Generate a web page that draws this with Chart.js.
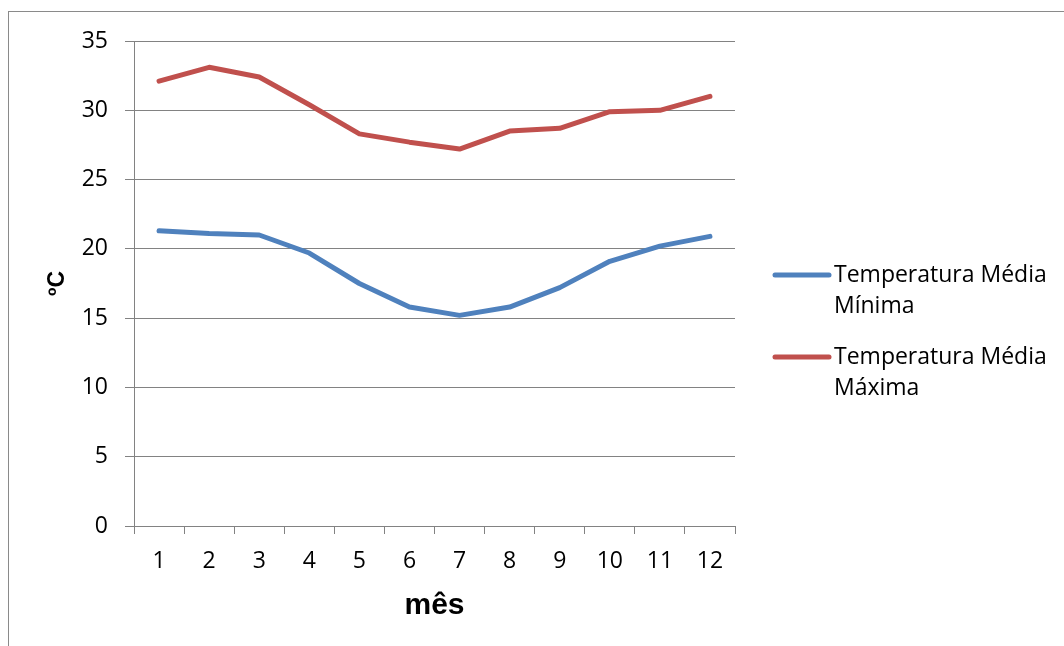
<!DOCTYPE html>
<html>
<head>
<meta charset="utf-8">
<script src="https://cdn.jsdelivr.net/npm/chart.js@4/dist/chart.umd.min.js"></script>
<style>
  html, body { margin: 0; padding: 0; background: #ffffff; overflow: hidden; }
  #wrap { width: 1064px; height: 646px; position: relative; }
  canvas { display: block; }
</style>
</head>
<body>
<div id="wrap"><canvas id="chart" width="1064" height="646"></canvas></div>
<script>
// Monthly mean temperatures (ºC)
const months = ['1', '2', '3', '4', '5', '6', '7', '8', '9', '10', '11', '12'];
const tempMin = [21.3, 21.1, 21.0, 19.7, 17.5, 15.8, 15.2, 15.8, 17.2, 19.1, 20.2, 20.9];
const tempMax = [32.1, 33.1, 32.4, 30.4, 28.3, 27.7, 27.2, 28.5, 28.7, 29.9, 30.0, 31.0];
const seriesNames = [['Temperatura Média', 'Mínima'], ['Temperatura Média', 'Máxima']];
const seriesColors = ['#4F81BD', '#C0504D'];

const GRID = '#828282';
const TEXT_FONT = '"Open Sans", sans-serif';

// Outer frame around the chart object
const framePlugin = {
  id: 'frame',
  beforeDraw(chart) {
    const ctx = chart.ctx;
    ctx.save();
    ctx.strokeStyle = '#8a8a8a';
    ctx.lineWidth = 1;
    ctx.strokeRect(8.5, 11.5, chart.width + 20, chart.height + 20);
    ctx.restore();
  }
};

// Legend on the right with wrapped series names
const wrapLegendPlugin = {
  id: 'wrapLegend',
  afterDraw(chart) {
    const ctx = chart.ctx;
    const x0 = 775, x1 = 829, tx = 834;
    const rows = [275, 357];
    const lineGap = 31;
    ctx.save();
    chart.data.datasets.forEach((ds, i) => {
      const y = rows[i];
      ctx.strokeStyle = ds.borderColor;
      ctx.lineWidth = 5;
      ctx.lineCap = 'round';
      ctx.beginPath();
      ctx.moveTo(x0, y);
      ctx.lineTo(x1, y);
      ctx.stroke();
      ctx.fillStyle = '#000000';
      ctx.font = '23px ' + TEXT_FONT;
      ctx.textAlign = 'left';
      ctx.textBaseline = 'middle';
      seriesNames[i].forEach((line, k) => {
        ctx.fillText(line, tx, y + k * lineGap);
      });
    });
    ctx.restore();
  }
};

const datasets = [tempMin, tempMax].map((values, i) => ({
  label: seriesNames[i].join(' '),
  data: values,
  borderColor: seriesColors[i],
  backgroundColor: seriesColors[i],
  borderWidth: 5,
  borderCapStyle: 'round',
  borderJoinStyle: 'round',
  pointRadius: 0,
  pointHoverRadius: 0,
  tension: 0,
  fill: false
}));

new Chart(document.getElementById('chart'), {
  type: 'line',
  data: { labels: months, datasets },
  options: {
    responsive: false,
    animation: false,
    devicePixelRatio: 1,
    layout: { padding: { top: 41, right: 329, bottom: 0, left: 0 } },
    plugins: {
      legend: { display: false },
      tooltip: { enabled: false }
    },
    scales: {
      x: {
        type: 'category',
        offset: true,
        afterFit(scale) { scale.height = 120; },
        grid: {
          offset: true,
          drawOnChartArea: false,
          drawTicks: true,
          tickLength: 8,
          color: GRID,
          lineWidth: 1
        },
        border: { display: true, color: GRID, width: 1 },
        ticks: {
          color: '#000000',
          font: { family: TEXT_FONT, size: 23 },
          padding: 14,
          maxRotation: 0,
          autoSkip: false
        },
        title: {
          display: true,
          text: 'mês',
          color: '#000000',
          font: { family: '"Liberation Sans", Arial, sans-serif', size: 30, weight: 'bold' },
          padding: { top: 0, bottom: 22 }
        }
      },
      y: {
        min: 0,
        max: 35,
        afterFit(scale) { scale.width = 134; },
        grid: {
          color: GRID,
          lineWidth: 1,
          drawTicks: true,
          tickLength: 9
        },
        border: { display: true, color: GRID, width: 1 },
        ticks: {
          stepSize: 5,
          color: '#000000',
          font: { family: TEXT_FONT, size: 23 },
          padding: 17
        },
        title: {
          display: true,
          text: 'ºC',
          color: '#000000',
          font: { family: '"Liberation Sans", Arial, sans-serif', size: 23, weight: 'bold' },
          padding: { top: 44, bottom: 0 }
        }
      }
    }
  },
  plugins: [framePlugin, wrapLegendPlugin]
});
</script>
</body>
</html>
